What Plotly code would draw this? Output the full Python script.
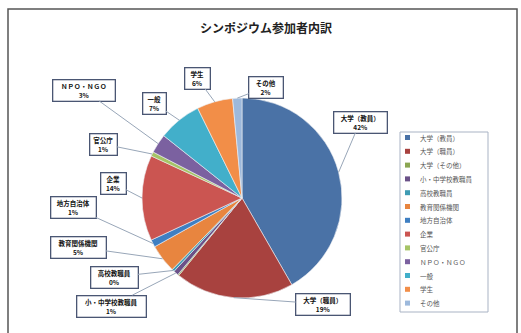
import math
import plotly.graph_objects as go

# Participant breakdown (percent of attendees)
categories = [
    "大学（教員）", "大学（職員）", "大学（その他）", "小・中学校教職員",
    "高校教職員", "教育関係機関", "地方自治体", "企業", "官公庁",
    "ＮＰＯ・ＮＧＯ", "一般", "学生", "その他",
]
shares = [41.7, 19.2, 0.2, 0.8, 0.4, 4.6, 1.2, 13.8, 0.7, 3.1, 7.0, 5.8, 1.5]

colors = [
    "#4a72a6", "#a8423f", "#8ba652", "#6a5188", "#3f9cb4", "#e8853f",
    "#3f7fc2", "#cb5551", "#a6c466", "#7b61a0", "#42afca", "#f28e48",
    "#9db9dc",
]

# Callout box centres (pixels) and widths for the labelled slices
label_boxes = {
    "大学（教員）": (360, 122, 56),
    "大学（職員）": (323, 304, 57),
    "小・中学校教職員": (111, 306, 72),
    "高校教職員": (114, 277, 50),
    "教育関係機関": (78, 247, 58),
    "地方自治体": (73, 207, 48),
    "企業": (113, 183, 28),
    "官公庁": (103, 144, 30),
    "ＮＰＯ・ＮＧＯ": (84, 90, 65),
    "一般": (154, 103, 26),
    "学生": (197, 78, 28),
    "その他": (266, 87, 37),
}

W, H = 521, 333
cx, cy, r = 242, 198, 100
FONT = "Noto Sans CJK JP"

fig = go.Figure()

fig.add_trace(go.Pie(
    labels=categories,
    values=shares,
    sort=False,
    direction="clockwise",
    rotation=0,
    textinfo="none",
    hoverinfo="label+percent",
    showlegend=False,
    marker=dict(colors=colors, line=dict(color="#eef0f4", width=0.6)),
    domain=dict(x=[(cx - r) / W, (cx + r) / W],
                y=[(H - cy - r) / H, (H - cy + r) / H]),
))

# hidden pixel-space axes for callouts, legend and frame
fig.add_trace(go.Scatter(x=[], y=[], showlegend=False, hoverinfo="skip"))

annotations = []
shapes = []

total = sum(shares)
cum = 0.0
for name, v in zip(categories, shares):
    mid = (cum + v / 2) / total * 2 * math.pi
    cum += v
    if name not in label_boxes:
        continue
    bx, by, bw = label_boxes[name]
    tx = cx + r * math.sin(mid)
    ty = cy - r * math.cos(mid)
    pct = round(v / total * 100)
    annotations.append(dict(
        x=tx, y=ty, xref="x", yref="y",
        ax=bx, ay=by, axref="x", ayref="y",
        text=f"<b>{name}<br>{pct}%</b>",
        showarrow=True, arrowhead=0, arrowwidth=1, arrowcolor="#98a6b8",
        standoff=0,
        font=dict(family=FONT, size=6.5, color="#111"),
        bgcolor="white", bordercolor="#4a5673", borderwidth=1.3,
        borderpad=1, width=bw - 6, align="center",
    ))

# title
annotations.append(dict(
    x=266, y=27, xref="x", yref="y", showarrow=False,
    text="<b>シンポジウム参加者内訳</b>",
    font=dict(family=FONT, size=12, color="#222"),
))

# legend
lx0, ly0, lx1, ly1 = 400, 132, 488, 312
shapes.append(dict(type="rect", xref="x", yref="y", x0=lx0, y0=ly0, x1=lx1, y1=ly1,
                   line=dict(color="#a9b3c4", width=1), fillcolor="white"))
step = 13.8
for i, (name, col) in enumerate(zip(categories, colors)):
    yy = 137.5 + i * step
    shapes.append(dict(type="rect", xref="x", yref="y",
                       x0=405, x1=410, y0=yy - 2.5, y1=yy + 2.5,
                       line=dict(width=0), fillcolor=col))
    annotations.append(dict(
        x=418, y=yy, xref="x", yref="y", showarrow=False,
        xanchor="left", yanchor="middle", text=name,
        font=dict(family=FONT, size=6.5, color="#555"),
    ))

# chart frame
shapes.append(dict(type="rect", xref="x", yref="y", x0=8, y0=9, x1=517, y1=345,
                   line=dict(color="#555", width=1.5), fillcolor="rgba(0,0,0,0)",
                   layer="below"))

fig.update_layout(
    width=W, height=H, autosize=False,
    margin=dict(l=0, r=0, t=0, b=0),
    paper_bgcolor="white", plot_bgcolor="white",
    xaxis=dict(range=[0, W], visible=False, fixedrange=True),
    yaxis=dict(range=[H, 0], visible=False, fixedrange=True),
    annotations=annotations, shapes=shapes,
    showlegend=False,
)

fig.write_html("out.html")
